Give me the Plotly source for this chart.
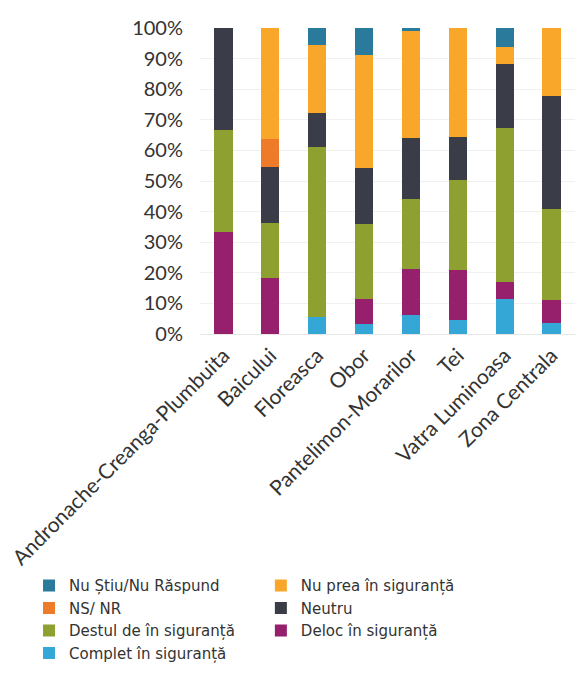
import plotly.graph_objects as go

zone = ["Andronache-Creanga-Plumbuita", "Baicului", "Floreasca", "Obor",
        "Pantelimon-Morarilor", "Tei", "Vatra Luminoasa", "Zona Centrala"]

# values in %, bottom of the stack first
complet = [0, 0, 5.6, 3.2, 6.2, 4.6, 11.3, 3.7]
deloc = [33.3, 18.2, 0, 8.1, 15.0, 16.3, 5.8, 7.4]
destul = [33.3, 18.2, 55.5, 24.5, 22.9, 29.4, 50.3, 29.6]
neutru = [33.4, 18.2, 11.1, 18.3, 19.8, 14.0, 20.7, 37.1]
ns_nr = [0, 9.1, 0, 0, 0, 0, 0, 0]
nu_prea = [0, 36.3, 22.2, 37.1, 35.2, 35.7, 5.8, 22.2]
nu_stiu = [0, 0, 5.6, 8.8, 0.9, 0, 6.1, 0]

# name, values, colour, which legend column
series = [
    ("Complet în siguranță", complet, "#34a7d6", "legend"),
    ("Deloc în siguranță", deloc, "#97206c", "legend2"),
    ("Destul de în siguranță", destul, "#8da030", "legend"),
    ("Neutru", neutru, "#3a3d48", "legend2"),
    ("NS/ NR", ns_nr, "#ee7b2a", "legend"),
    ("Nu prea în siguranță", nu_prea, "#f9a72a", "legend2"),
    ("Nu Știu/Nu Răspund", nu_stiu, "#2a7b9b", "legend"),
]

fig = go.Figure()
for name, vals, col, leg in series:
    fig.add_trace(go.Bar(x=zone, y=vals, name=name, marker_color=col,
                         marker_line_width=0, legend=leg))

leg_style = dict(traceorder="reversed", xref="container", yref="container",
                 yanchor="top", xanchor="left",
                 font=dict(family="DejaVu Sans, sans-serif", size=15),
                 itemwidth=30, tracegroupgap=0, bgcolor="rgba(0,0,0,0)")

# the page body adds 8px on the left/top, so margins are trimmed by that
fig.update_layout(
    barmode="stack",
    bargap=0.61,
    width=584, height=687,
    margin=dict(l=192, r=17, t=20, b=361, autoexpand=False),
    paper_bgcolor="white", plot_bgcolor="white",
    font=dict(family="Lato, Open Sans, sans-serif", size=18, color="#333333"),
    legend=dict(x=0.036, y=0.183, **leg_style),
    legend2=dict(x=0.433, y=0.183, **leg_style),
)
fig.update_yaxes(range=[0, 100], dtick=10, ticksuffix="%",
                 showgrid=True, gridcolor="#f0f0f0", zeroline=False,
                 ticklabelstandoff=16, tickfont=dict(size=20),
                 automargin=False)
fig.update_xaxes(tickangle=-45, showline=True, linecolor="#e6e6e6",
                 tickfont=dict(size=21), automargin=False)

fig.write_html("out.html")
